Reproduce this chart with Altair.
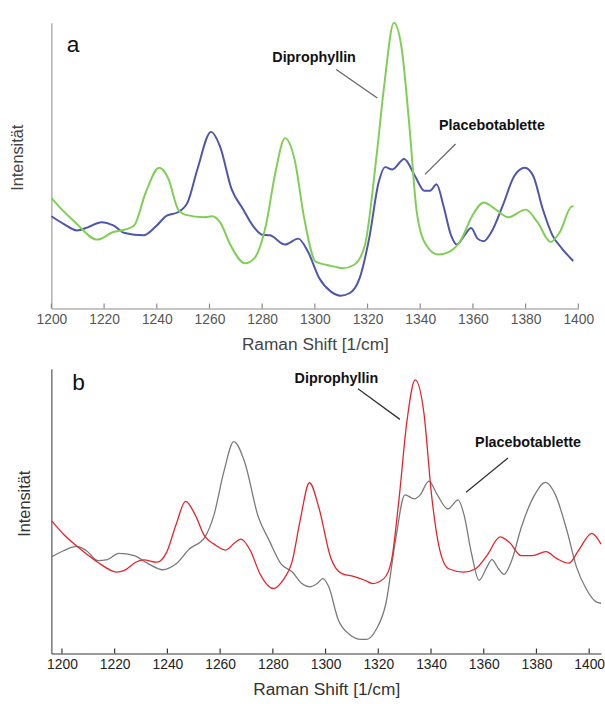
import altair as alt
import pandas as pd

# ---------------- Panel a ----------------
a_green_x = [1200, 1203.2, 1209, 1217.4, 1223.5, 1227.8, 1231.4, 1235.8, 1240.9, 1244.5, 1248, 1251, 1258, 1261,
             1264, 1268, 1273.5, 1277, 1281.4, 1285, 1288.7, 1292.3, 1296, 1300.3, 1304.6, 1307.5, 1310.4, 1314.8,
             1319, 1323.4, 1326.4, 1330, 1332.9, 1335.8, 1338.7, 1342.3, 1346.7, 1351, 1355.4, 1359.8, 1364.1,
             1368.4, 1373.5, 1380, 1384.5, 1389.5, 1393, 1397.4, 1398.2]
a_green_y = [335, 307, 262, 209, 232, 239, 252, 352, 427, 392, 302, 284, 277, 280,
             262, 192, 137, 152, 252, 412, 517, 452, 272, 142, 132, 127, 122, 132,
             192, 462, 682, 867, 792, 562, 292, 192, 164, 172, 207, 282, 322,
             302, 277, 300, 262, 202, 232, 309, 310]

a_blue_x = [1200, 1204.6, 1209.7, 1214, 1219, 1223.5, 1227.8, 1235, 1239.4, 1243.8, 1248, 1251.7, 1255.4, 1260.6,
            1264, 1268.4, 1272.7, 1276.4, 1280, 1283, 1288.7, 1293.7, 1297.4, 1301.7, 1306, 1309.7, 1313.3, 1317,
            1320.6, 1324.2, 1326.7, 1329.4, 1333.9, 1338, 1341.6, 1343.7, 1346.2, 1348.8, 1351.7, 1353.9, 1356.8,
            1359.3, 1361.8, 1364, 1367, 1371.3, 1375.7, 1379.7, 1382.9, 1386.5, 1390.2, 1393.8, 1398.1]
a_blue_y = [280, 257, 237, 247, 262, 252, 229, 222, 247, 282, 292, 322, 422, 536,
            492, 362, 302, 252, 224, 222, 194, 212, 172, 92, 52, 39, 47, 92,
            212, 382, 429, 422, 454, 402, 357, 357, 377, 312, 222, 194, 222,
            244, 212, 204, 232, 312, 402, 427, 402, 302, 222, 182, 144]

a_label_x = [1299.7, 1367.2]
a_label_y = [760, 555]
a_labels = ["Diprophyllin", "Placebotablette"]
a_lead_x = [1308.1, 1353.4]
a_lead_x2 = [1323.7, 1341.8]
a_lead_y = [725, 499]
a_lead_y2 = [639, 407]

# ---------------- Panel b ----------------
b_red_x = [1196.2, 1200.6, 1207.8, 1213.6, 1220.8, 1223.7, 1228, 1231, 1236, 1239.7, 1243.3, 1246.9, 1250.5,
           1254.1, 1257.7, 1262, 1265.7, 1267.9, 1271.5, 1275.1, 1280.2, 1283.8, 1287.4, 1290.3, 1293.9, 1297.5,
           1301.9, 1306.2, 1310.6, 1314.9, 1317.8, 1322.1, 1325, 1327.9, 1330.8, 1334, 1337.3, 1340.2, 1343.1,
           1346.7, 1352.5, 1356.9, 1361.2, 1366.2, 1369.8, 1374.2, 1378.5, 1383.6, 1387.9, 1392.3, 1395.9, 1401,
           1404.5]
b_red_y = [403, 363, 313, 278, 248, 253, 278, 285, 278, 308, 393, 463, 423,
           358, 333, 315, 338, 348, 313, 243, 198, 223, 283, 403, 520, 443,
           293, 243, 235, 223, 213, 228, 283, 473, 703, 833, 733, 483, 323,
           258, 248, 258, 298, 355, 338, 298, 298, 310, 288, 275, 313, 366,
           333]

b_gray_x = [1196.2, 1200.6, 1205.6, 1209.3, 1213.6, 1217.2, 1221.6, 1227.4, 1232.4, 1238.2, 1243.3, 1248.3, 1254.1,
            1257.7, 1261.4, 1265.2, 1269.3, 1274.4, 1278.7, 1283.1, 1287.4, 1291, 1293.9, 1296.8, 1299, 1301.2,
            1304.8, 1309.1, 1313.5, 1315.6, 1319.2, 1322.9, 1326.5, 1330.1, 1333.7, 1335.9, 1339.2, 1342.4, 1346.4,
            1350.3, 1352.5, 1355.4, 1358.2, 1361.2, 1363.1, 1365.6, 1367.7, 1370.6, 1374.2, 1379.3, 1383.4, 1387.2,
            1391.6, 1395.2, 1398.8, 1402.5, 1404.5]
b_gray_y = [295, 313, 326, 313, 283, 286, 305, 298, 275, 255, 273, 318, 353,
            423, 553, 645, 583, 418, 343, 273, 248, 213, 203, 213, 228, 203,
            103, 58, 43, 43, 73, 153, 343, 483, 471, 483, 525, 483, 440,
            468, 423, 303, 223, 263, 286, 258, 241, 283, 383, 483, 521, 483,
            373, 263, 198, 158, 153]

b_label_x = [1304.1, 1376.8]
b_label_y = [835, 641]
b_labels = ["Diprophyllin", "Placebotablette"]
b_lead_x = [1312.3, 1369.2]
b_lead_x2 = [1328.2, 1353.3]
b_lead_y = [806, 595]
b_lead_y2 = [713, 491]

x_ticks = [1200, 1220, 1240, 1260, 1280, 1300, 1320, 1340, 1360, 1380, 1400]
y_domain = [0, 867]

FONT = "Liberation Sans, Arial, sans-serif"


def series_df(xs, ys, name):
    return pd.DataFrame({"x": xs, "y": ys, "series": name})


def panel(df, names, colors, stroke_w, xdom, w, h, axis_col, label_col, title_col,
          lx, ly, labs, ax, ax2, ay, ay2, lead_col, tag, tag_x, tag_y, title_pad):
    xs = alt.Scale(domain=xdom, nice=False, zero=False)
    ys = alt.Scale(domain=y_domain, nice=False, zero=False)
    x_axis = alt.Axis(values=x_ticks, ticks=False, grid=False, labelFlush=False,
                      labelOverlap=False, format="d", labelFont=FONT, labelFontSize=14,
                      labelColor=label_col, labelPadding=4, labelBaseline="top",
                      titleFont=FONT, titleFontSize=17.5, titleFontWeight="normal",
                      titleColor=title_col, titlePadding=9, domainColor=axis_col,
                      domainWidth=1)
    y_axis = alt.Axis(labels=False, ticks=False, grid=False, titleFont=FONT,
                      titleFontSize=16.5, titleFontWeight="normal", titleColor=title_col,
                      titlePadding=title_pad, titleY=136, domainColor=axis_col, domainWidth=1)
    X = alt.X("x:Q", scale=xs, title="Raman Shift [1/cm]", axis=x_axis)
    Y = alt.Y("y:Q", scale=ys, title="Intensität", axis=y_axis)

    lines = alt.Chart(df).mark_line(interpolate="monotone", strokeWidth=stroke_w).encode(
        x=X, y=Y,
        color=alt.Color("series:N", scale=alt.Scale(domain=names, range=colors), legend=None),
    )
    tick_df = pd.DataFrame({"x": x_ticks})
    ticks = alt.Chart(tick_df).mark_tick(color=axis_col, orient="vertical", size=5,
                                         thickness=1.2, opacity=1).encode(
        x=X,
        y=alt.value(h - 2.5),
    )
    lead_df = pd.DataFrame({"x": ax, "x2": ax2, "y": ay, "y2": ay2})
    leads = alt.Chart(lead_df).mark_rule(color=lead_col, strokeWidth=1.3).encode(
        x=X, x2="x2:Q", y=Y, y2="y2:Q",
    )
    lab_df = pd.DataFrame({"x": lx, "y": ly, "t": labs})
    labels = alt.Chart(lab_df).mark_text(font=FONT, fontSize=14.5, fontWeight="bold",
                                         color="#111111").encode(
        x=X, y=Y, text="t:N",
    )
    tag_df = pd.DataFrame({"x": [tag_x], "y": [tag_y], "t": [tag]})
    tagm = alt.Chart(tag_df).mark_text(font=FONT, fontSize=23, fontWeight=500,
                                       color="#111111").encode(
        x=X, y=Y, text="t:N",
    )
    return alt.layer(lines, ticks, leads, labels, tagm).properties(width=w, height=h)


df_a = pd.concat([series_df(a_blue_x, a_blue_y, "Placebotablette"),
                  series_df(a_green_x, a_green_y, "Diprophyllin")])
df_b = pd.concat([series_df(b_gray_x, b_gray_y, "Placebotablette"),
                  series_df(b_red_x, b_red_y, "Diprophyllin")])

chart_a = panel(df_a, ["Placebotablette", "Diprophyllin"], ["#4d55ad", "#7fcf55"], 2.0,
                [1200, 1400], 533, 289, "#8a8a8a", "#555555", "#444444",
                a_label_x, a_label_y, a_labels, a_lead_x, a_lead_x2, a_lead_y, a_lead_y2,
                "#666666", "a", 1208.2, 800, 26)
chart_b = panel(df_b, ["Placebotablette", "Diprophyllin"], ["#7a7a7a", "#e8222a"], 1.3,
                [1196, 1404.5], 556, 288, "#333333", "#222222", "#333333",
                b_label_x, b_label_y, b_labels, b_lead_x, b_lead_x2, b_lead_y, b_lead_y2,
                "#333333", "b", 1206.3, 822, 19)

chart = alt.concat(chart_a, chart_b, columns=1, spacing=16, align="none").properties(
    padding={"left": 10, "top": 15, "right": 0, "bottom": 0}
).resolve_scale(color="independent").configure(background="white").configure_view(strokeWidth=0)

chart.save("out.html", embed_options={"renderer": "svg", "actions": False})
